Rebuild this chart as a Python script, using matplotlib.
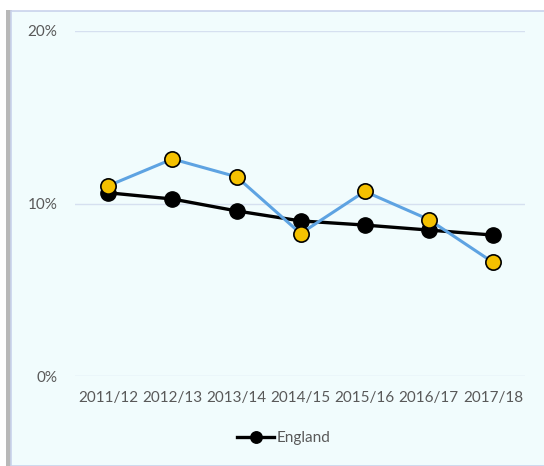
import matplotlib.pyplot as plt
from matplotlib.patches import Rectangle

periodos = ["2011/12", "2012/13", "2013/14", "2014/15", "2015/16", "2016/17", "2017/18"]
england = [10.62, 10.26, 9.57, 8.99, 8.75, 8.46, 8.17]
local = [11.03, 12.58, 11.55, 8.26, 10.70, 9.07, 6.59]
yticks = [0, 10, 20]
ylabels = ["0%", "10%", "20%"]

plt.rcParams['font.family'] = ['Lato', 'DejaVu Sans']

fig = plt.figure(figsize=(5.44, 4.66), dpi=100)
fig.patch.set_facecolor("white")

# panel de fondo con sombra a la izquierda
fig.patches.append(Rectangle((6 / 544, 0), 6 / 544, 456 / 466, transform=fig.transFigure,
                             facecolor="#b8b8b8", edgecolor="none", zorder=-2))
fig.patches.append(Rectangle((11 / 544, 0), 540 / 544, 455 / 466, transform=fig.transFigure,
                             facecolor="#f1fcfd", edgecolor="#c9d3ec", linewidth=1.2, zorder=-1))

ax = fig.add_axes([75 / 544, 90 / 466, 450 / 544, 345 / 466])
ax.set_facecolor("none")
x = list(range(len(periodos)))

ax.plot(x, england, color="black", linewidth=2.4, marker="o", markersize=11,
        markerfacecolor="black", markeredgecolor="black", label="England", zorder=3, clip_on=False)
ax.plot(x, local, color="#5ea3e2", linewidth=2.2, marker="o", markersize=11,
        markerfacecolor="#f5c100", markeredgecolor="black", markeredgewidth=1.2,
        zorder=4, clip_on=False)

ax.set_xlim(-0.52, 6.5)
ax.set_ylim(0, 20)
ax.set_yticks(yticks)
ax.set_yticklabels(ylabels)
ax.set_xticks(x)
ax.set_xticklabels(periodos)
ax.grid(axis="y", color="#d6e0f0", linewidth=1)
ax.set_axisbelow(True)
for s in ax.spines.values():
    s.set_visible(False)
ax.tick_params(length=0, labelsize=11, labelcolor="#595959")
ax.tick_params(axis="y", pad=12.5)
ax.tick_params(axis="x", pad=11)

fig.legend(handles=ax.get_lines()[:1], loc="center", bbox_to_anchor=(284 / 544, 1 - 438 / 466),
           frameon=False, fontsize=11, labelcolor="#595959", handlelength=2.4,
           handletextpad=0.2, markerscale=0.75)

fig.savefig("out.png", dpi=100)
